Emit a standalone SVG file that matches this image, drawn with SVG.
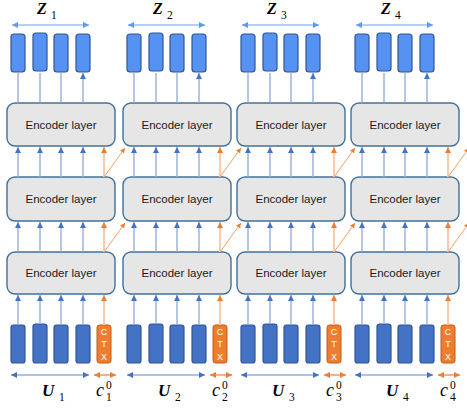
<svg xmlns="http://www.w3.org/2000/svg" width="467" height="410" viewBox="0 0 467 410">
<style>
.enc{fill:#E7E6E6;stroke:#41719C;stroke-width:1.4}
.et{font-family:"Liberation Sans",Arial,sans-serif;font-size:11.5px;fill:#1a1a1a;text-anchor:middle}
.tb{fill:#5592F2;stroke:#2F5597;stroke-width:1.2}
.bb{fill:#4472C4;stroke:#2F5597;stroke-width:1.2}
.ctx{fill:#ED7D31;stroke:#C55A11;stroke-width:1}
.ct{font-family:"Liberation Sans",Arial,sans-serif;font-size:9px;fill:#FFFFFF;text-anchor:middle}
.bl{stroke:#8EA9DB;stroke-width:1.3;fill:none}
.ol{stroke:#F8CBAD;stroke-width:2;fill:none}
.od{stroke:#F4A266;stroke-width:1;fill:none}
.dz{stroke:#6F9FEA;stroke-width:1.2;fill:none}
.du{stroke:#5B86D4;stroke-width:1.2;fill:none}
.dc{stroke:#ED7D31;stroke-width:1.2;fill:none}
.lab{font-family:"Liberation Serif","Times New Roman",serif;font-weight:bold;font-style:italic;font-size:16px;fill:#000}
.lbu{font-family:"Liberation Serif","Times New Roman",serif;font-weight:bold;font-style:italic;font-size:17px;fill:#000}
.sub{font-family:"Liberation Serif","Times New Roman",serif;font-size:11.5px;fill:#000}
.cl{font-family:"Liberation Serif","Times New Roman",serif;font-style:italic;font-size:18px;fill:#000}
</style>
<defs>
<marker id="ab" markerUnits="userSpaceOnUse" markerWidth="7" markerHeight="7" refX="6" refY="3" orient="auto"><path d="M0,0 L6,3 L0,6 z" fill="#4472C4"/></marker>
<marker id="ao" markerUnits="userSpaceOnUse" markerWidth="7" markerHeight="7" refX="6" refY="3" orient="auto"><path d="M0,0 L6,3 L0,6 z" fill="#ED7D31"/></marker>
<marker id="aos" markerUnits="userSpaceOnUse" markerWidth="6" markerHeight="6" refX="5" refY="2.5" orient="auto"><path d="M0,0 L5,2.5 L0,5 z" fill="#ED7D31"/></marker>
<marker id="az" markerUnits="userSpaceOnUse" markerWidth="7" markerHeight="7" refX="6" refY="3" orient="auto-start-reverse"><path d="M0,0 L6,3 L0,6 z" fill="#5B9BF5"/></marker>
<marker id="au" markerUnits="userSpaceOnUse" markerWidth="7" markerHeight="7" refX="6" refY="3" orient="auto-start-reverse"><path d="M0,0 L6,3 L0,6 z" fill="#4472C4"/></marker>
<marker id="ac" markerUnits="userSpaceOnUse" markerWidth="7" markerHeight="7" refX="6" refY="3" orient="auto-start-reverse"><path d="M0,0 L6,3 L0,6 z" fill="#ED7D31"/></marker>
<g id="column">
  <rect class="tb" x="11" y="34" width="14" height="38" rx="3"/>
  <rect class="tb" x="33" y="33" width="14" height="38" rx="3"/>
  <rect class="tb" x="54" y="34" width="14" height="38" rx="3"/>
  <rect class="tb" x="76" y="34" width="14" height="38" rx="3"/>
  <rect class="enc" x="7" y="103" width="108" height="43" rx="8"/>
  <text class="et" x="61" y="128.5">Encoder layer</text>
  <rect class="enc" x="7" y="177" width="108" height="44" rx="8"/>
  <text class="et" x="61" y="203">Encoder layer</text>
  <rect class="enc" x="7" y="252" width="108" height="42" rx="8"/>
  <text class="et" x="61" y="277">Encoder layer</text>
  <rect class="bb" x="11" y="325" width="14" height="38" rx="2.5"/>
  <rect class="bb" x="33" y="324" width="14" height="39" rx="2.5"/>
  <rect class="bb" x="54" y="325" width="14" height="38" rx="2.5"/>
  <rect class="bb" x="76" y="325" width="14" height="38" rx="2.5"/>
  <rect class="ctx" x="97" y="325" width="14" height="38" rx="2.5"/>
  <text class="ct" x="104" y="334.5">C</text>
  <text class="ct" x="104" y="346.5">T</text>
  <text class="ct" x="104" y="360">X</text>
  <path class="bl" d="M18,103V73 M40,103V73 M61,103V73 M83,103V73" marker-end="url(#ab)"/>
  <line class="bl" x1="18" y1="177" x2="18" y2="147" marker-end="url(#ab)"/>
  <line class="bl" x1="40" y1="177" x2="40" y2="147" marker-end="url(#ab)"/>
  <line class="bl" x1="61" y1="177" x2="61" y2="147" marker-end="url(#ab)"/>
  <line class="bl" x1="83" y1="177" x2="83" y2="147" marker-end="url(#ab)"/>
  <line class="ol" x1="104" y1="177" x2="104" y2="147" marker-end="url(#ao)"/>
  <line class="od" x1="104" y1="177" x2="125" y2="148" marker-end="url(#aos)"/>
  <line class="bl" x1="18" y1="252" x2="18" y2="222" marker-end="url(#ab)"/>
  <line class="bl" x1="40" y1="252" x2="40" y2="222" marker-end="url(#ab)"/>
  <line class="bl" x1="61" y1="252" x2="61" y2="222" marker-end="url(#ab)"/>
  <line class="bl" x1="83" y1="252" x2="83" y2="222" marker-end="url(#ab)"/>
  <line class="ol" x1="104" y1="252" x2="104" y2="222" marker-end="url(#ao)"/>
  <line class="od" x1="104" y1="252" x2="125" y2="223" marker-end="url(#aos)"/>
  <line class="bl" x1="18" y1="325" x2="18" y2="295" marker-end="url(#ab)"/>
  <line class="bl" x1="40" y1="324" x2="40" y2="295" marker-end="url(#ab)"/>
  <line class="bl" x1="61" y1="325" x2="61" y2="295" marker-end="url(#ab)"/>
  <line class="bl" x1="83" y1="325" x2="83" y2="295" marker-end="url(#ab)"/>
  <line class="ol" x1="104" y1="325" x2="104" y2="295" marker-end="url(#ao)"/>
  <line class="dz" x1="12" y1="25" x2="89" y2="25" marker-start="url(#az)" marker-end="url(#az)"/>
  <line class="du" x1="11" y1="375" x2="89" y2="375" marker-start="url(#au)" marker-end="url(#au)"/>
  <line class="dc" x1="94" y1="375" x2="116" y2="375" marker-start="url(#ac)" marker-end="url(#ac)"/>
</g>
</defs>
<g id="col1">
  <use href="#column" x="0"/>
  <text class="lab" x="37" y="14">Z</text><text class="sub" x="51" y="18.5">1</text>
  <text class="lbu" x="42" y="396">U</text><text class="sub" x="59" y="401">1</text>
  <text class="cl" x="96" y="396">c</text><text class="sub" x="106" y="389">0</text><text class="sub" x="106" y="401">1</text>
</g>
<g id="col2">
  <use href="#column" x="116"/>
  <text class="lab" x="153" y="14">Z</text><text class="sub" x="167" y="18.5">2</text>
  <text class="lbu" x="158" y="396">U</text><text class="sub" x="175" y="401">2</text>
  <text class="cl" x="212" y="396">c</text><text class="sub" x="222" y="389">0</text><text class="sub" x="222" y="401">2</text>
</g>
<g id="col3">
  <use href="#column" x="230"/>
  <text class="lab" x="267" y="14">Z</text><text class="sub" x="281" y="18.5">3</text>
  <text class="lbu" x="272" y="396">U</text><text class="sub" x="289" y="401">3</text>
  <text class="cl" x="326" y="396">c</text><text class="sub" x="336" y="389">0</text><text class="sub" x="336" y="401">3</text>
</g>
<g id="col4">
  <use href="#column" x="344"/>
  <text class="lab" x="381" y="14">Z</text><text class="sub" x="395" y="18.5">4</text>
  <text class="lbu" x="386" y="396">U</text><text class="sub" x="403" y="401">4</text>
  <text class="cl" x="440" y="396">c</text><text class="sub" x="450" y="389">0</text><text class="sub" x="450" y="401">4</text>
</g>
</svg>
